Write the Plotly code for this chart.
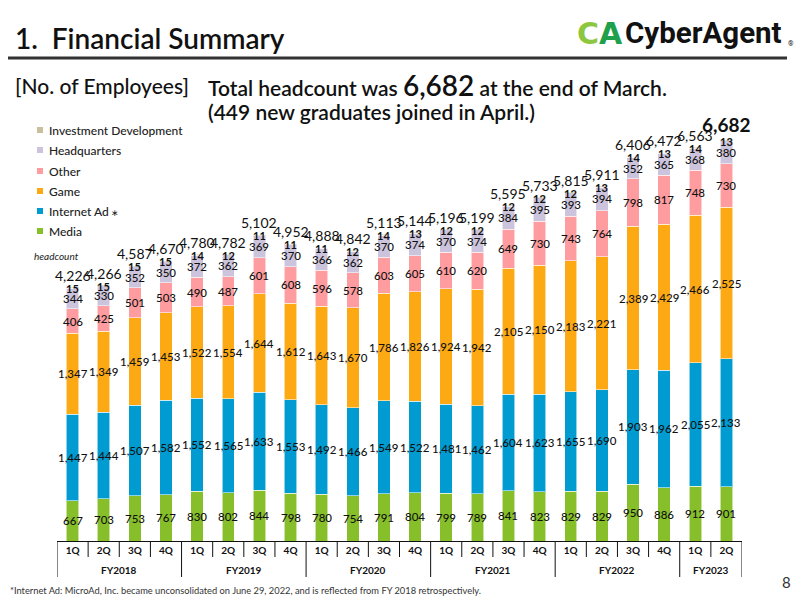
import plotly.graph_objects as go

# ---------------- data ----------------
quarters = ["1Q", "2Q", "3Q", "4Q"] * 5 + ["1Q", "2Q"]
fiscal_years = (["FY2018"] * 4 + ["FY2019"] * 4 + ["FY2020"] * 4 +
                ["FY2021"] * 4 + ["FY2022"] * 4 + ["FY2023"] * 2)

media = [667, 703, 753, 767, 830, 802, 844, 798, 780, 754, 791,
         804, 799, 789, 841, 823, 829, 829, 950, 886, 912, 901]
internet_ad = [1447, 1444, 1507, 1582, 1552, 1565, 1633, 1553, 1492, 1466, 1549,
               1522, 1481, 1462, 1604, 1623, 1655, 1690, 1903, 1962, 2055, 2133]
game = [1347, 1349, 1459, 1453, 1522, 1554, 1644, 1612, 1643, 1670, 1786,
        1826, 1924, 1942, 2105, 2150, 2183, 2221, 2389, 2429, 2466, 2525]
other = [406, 425, 501, 503, 490, 487, 601, 608, 596, 578, 603,
         605, 610, 620, 649, 730, 743, 764, 798, 817, 748, 730]
headquarters = [344, 330, 352, 350, 372, 362, 369, 370, 366, 362, 370,
                374, 370, 374, 384, 395, 393, 394, 352, 365, 368, 380]
investment_dev = [15, 15, 15, 15, 14, 12, 11, 11, 11, 12, 14,
                  13, 12, 12, 12, 12, 12, 13, 14, 13, 14, 13]
totals = [4226, 4266, 4587, 4670, 4780, 4782, 5102, 4952, 4888, 4842, 5113,
          5144, 5196, 5199, 5595, 5733, 5815, 5911, 6406, 6472, 6563, 6682]

series_names = ["Media", "Internet Ad", "Game", "Other", "Headquarters", "Investment Development"]
series_values = [media, internet_ad, game, other, headquarters, investment_dev]
series_colors = ["#86BF2A", "#009BD0", "#FDA914", "#FF9C9F", "#CCC4DC", "#C9BF9C"]

FONT = "Lato"
x_idx = list(range(len(quarters)))

# plot-area pixel geometry (for placing page decorations)
L, R, T, B = 57, 742, 121, 541
def px(x):
    return (x - L) / (R - L)
def py(y):
    return (B - y) / (B - T)

fig = go.Figure()
for name, vals, col in zip(series_names, series_values, series_colors):
    fig.add_trace(go.Bar(
        x=x_idx, y=vals, name=name, width=0.4,
        marker=dict(color=col, line=dict(color="rgba(255,255,255,0.55)", width=1)),
        showlegend=False, hoverinfo="y+name"))

def note(x, y, text, xref="paper", yref="paper", xanchor="center", **kw):
    d = dict(x=x, y=y, xref=xref, yref=yref, text=text, showarrow=False,
             xanchor=xanchor, yanchor="middle")
    d.update(kw)
    return d

ann = []
# segment labels
base = [0] * len(x_idx)
for si, vals in enumerate(series_values):
    for i, v in enumerate(vals):
        if si < 5:
            ann.append(note(i, base[i] + v / 2, f"{v:,}", "x", "y",
                            font=dict(family=FONT, size=11.5, color="#111", weight=500)))
        else:
            ann.append(note(i, base[i] + v, f"{v:,}", "x", "y", yshift=-1,
                            font=dict(family=FONT, size=11, color="#111", weight=700)))
        base[i] += v
# totals
for i, t in enumerate(totals):
    last = i == len(totals) - 1
    ann.append(note(i, t, f"{t:,}", "x", "y", yshift=16 if last else 12,
                    font=dict(family=FONT, size=19 if last else 14, color="#111",
                              weight=700 if last else 400)))

# fiscal-year group labels
groups = []
for i, fy in enumerate(fiscal_years):
    if not groups or groups[-1][0] != fy:
        groups.append([fy, i, i])
    else:
        groups[-1][2] = i
for fy, a, b in groups:
    ann.append(note((a + b) / 2, py(570), fy, "x", "paper",
                    font=dict(family=FONT, size=10, color="#111", weight=700)))

shapes = []
# axis table separators
for i in range(len(x_idx) + 1):
    xb = i - 0.5
    year_edge = i == 0 or i == len(x_idx) or fiscal_years[i] != fiscal_years[i - 1]
    shapes.append(dict(type="line", xref="x", yref="paper", x0=xb, x1=xb,
                       y0=0, y1=py(577 if year_edge else 557),
                       line=dict(color="#111", width=1)))

# header rule
shapes.append(dict(type="line", xref="paper", yref="paper", x0=px(8), x1=px(787),
                   y0=py(58), y1=py(58), line=dict(color="#333", width=3)))

# legend (manual, top-down reversed order)
leg_y = [231, 211, 191, 171, 150, 130]
for name, col, yy in zip(series_names, series_colors, leg_y):
    shapes.append(dict(type="rect", xref="paper", yref="paper", x0=px(37), x1=px(43),
                       y0=py(yy + 3), y1=py(yy - 3), line=dict(width=0), fillcolor=col))
    label = name + ("<span style='font-size:9px'> ∗</span>" if name == "Internet Ad" else "")
    ann.append(note(px(47), py(yy), label, xanchor="left",
                    font=dict(family=FONT, size=12, color="#222", weight=500)))

ann.append(note(px(32), py(256), "headcount", xanchor="left",
                font=dict(family=FONT, size=10, color="#222", style="italic")))

# page texts
ann.append(note(px(13), py(38), "1.  Financial Summary", xanchor="left",
                font=dict(family=FONT, size=28, color="#111", weight=600)))
ann.append(note(px(13), py(85), "[No. of Employees]", xanchor="left",
                font=dict(family=FONT, size=21, color="#111", weight=500)))
ann.append(note(px(206), py(85),
                "Total headcount was <span style='font-size:28px'>6,682</span> at the end of March.",
                xanchor="left", font=dict(family=FONT, size=21, color="#111", weight=600)))
ann.append(note(px(206), py(111), "(449 new graduates joined in April.)", xanchor="left",
                font=dict(family=FONT, size=21, color="#111", weight=600)))
# logo
ann.append(note(px(575), py(33),
                "<span style='color:#8DC63F'>C</span><span style='color:#1FA04A'>A</span>",
                xanchor="left", font=dict(family="DejaVu Sans", size=30, weight=700)))
ann.append(note(px(623), py(33), "CyberAgent", xanchor="left",
                font=dict(family="Roboto", size=29.5, color="#111", weight=700)))
ann.append(note(px(786), py(44), "®", xanchor="left",
                font=dict(family="Roboto", size=7, color="#111")))
# footnote & page number
ann.append(note(px(8), py(590),
                "*Internet Ad: MicroAd, Inc. became unconsolidated on June 29, 2022, and is reflected from FY 2018 retrospectively.",
                xanchor="left", font=dict(family=FONT, size=9.3, color="#333")))
ann.append(note(px(786), py(582), "8", font=dict(family=FONT, size=15, color="#333")))

fig.update_layout(
    width=800, height=600,
    margin=dict(l=L, r=800 - R, t=T, b=600 - B),
    barmode="stack", bargap=0.6,
    plot_bgcolor="white", paper_bgcolor="white",
    annotations=ann, shapes=shapes,
    xaxis=dict(range=[-0.5, len(x_idx) - 0.5], tickvals=x_idx, ticktext=quarters,
               tickfont=dict(family=FONT, size=10, color="#111", weight=700),
               showline=True, linecolor="#111", linewidth=1, ticks="",
               showgrid=False, zeroline=False, fixedrange=True),
    yaxis=dict(range=[0, 7000], visible=False, fixedrange=True),
    font=dict(family=FONT),
)

fig.write_html("out.html")
